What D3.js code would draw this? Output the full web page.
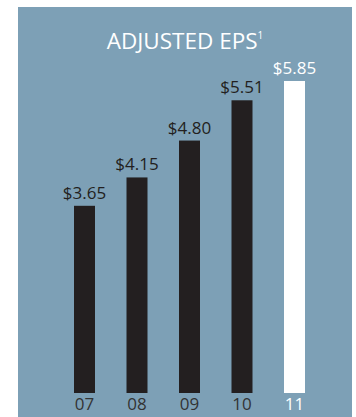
<!DOCTYPE html>
<html>
<head>
<meta charset="utf-8">
<script src="https://cdn.jsdelivr.net/npm/d3@7"></script>
<style>
  html, body { margin: 0; padding: 0; background: #ffffff; }
  svg { display: block; }
  text { font-family: "Open Sans", "Noto Sans", sans-serif; }
</style>
</head>
<body>
<svg id="chart" width="356" height="417"></svg>
<script>
// Adjusted earnings per share by fiscal year
const years = ["07", "08", "09", "10", "11"];
const eps = [3.65, 4.15, 4.80, 5.51, 5.85];
const valueLabels = ["$3.65", "$4.15", "$4.80", "$5.51", "$5.85"];
const highlightYear = "11";

const svg = d3.select("#chart");

// Blue-grey panel
svg.append("rect")
  .attr("x", 18).attr("y", 7)
  .attr("width", 334).attr("height", 410)
  .attr("fill", "#7da0b6");

// Title with footnote marker
const title = svg.append("text")
  .attr("x", 185).attr("y", 48.7)
  .attr("text-anchor", "middle")
  .attr("fill", "#ffffff")
  .attr("font-size", 22.5);
title.append("tspan").text("ADJUSTED EPS");
title.append("tspan").text("1")
  .attr("font-size", 10)
  .attr("dy", -10);

const x = d3.scaleBand()
  .domain(years)
  .range([58.25, 320.75])
  .paddingInner(0.6)
  .paddingOuter(0.3);

const y = d3.scaleLinear()
  .domain([0.35, 5.85])
  .range([393, 81]);

const data = years.map((yr, i) => ({ year: yr, value: eps[i], label: valueLabels[i] }));
const colorFor = d => d.year === highlightYear ? "#ffffff" : "#231f20";

// Bars
svg.append("g").selectAll("rect")
  .data(data)
  .join("rect")
  .attr("x", d => x(d.year))
  .attr("y", d => y(d.value))
  .attr("width", x.bandwidth())
  .attr("height", d => y.range()[0] - y(d.value))
  .attr("fill", colorFor);

// Value labels above bars
svg.append("g").selectAll("text")
  .data(data)
  .join("text")
  .attr("x", d => x(d.year) + x.bandwidth() / 2)
  .attr("y", d => y(d.value) - 7)
  .attr("text-anchor", "middle")
  .attr("font-size", 17)
  .attr("fill", d => d.year === highlightYear ? "#ffffff" : "#231f20")
  .text(d => d.label);

// Year axis labels
const xAxis = d3.axisBottom(x).tickSize(0).tickPadding(0);
const axisG = svg.append("g")
  .attr("transform", "translate(0,393)")
  .call(xAxis);
axisG.select(".domain").remove();
axisG.selectAll("text")
  .attr("font-family", "\"Open Sans\", \"Noto Sans\", sans-serif")
  .attr("font-size", 17)
  .attr("dy", null)
  .attr("y", 17)
  .attr("fill", d => d === highlightYear ? "#ffffff" : "#333333");
</script>
</body>
</html>
